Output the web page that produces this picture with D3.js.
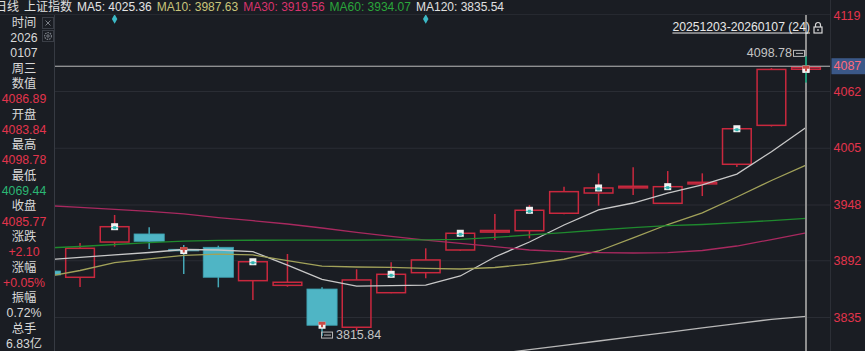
<!DOCTYPE html>
<html><head><meta charset="utf-8">
<script src="https://cdn.jsdelivr.net/npm/d3@7"></script>
<style>
html,body{margin:0;padding:0;background:#1a1d23;overflow:hidden;}
svg{display:block;}
text{font-family:"Liberation Sans","Noto Sans CJK SC",Arial,sans-serif;}
</style></head><body>
<svg id="c" width="865" height="351"></svg>
<script>
// ---------- DATA ----------
const dates = ["20251203","20251204","20251205","20251208","20251209","20251210","20251211","20251212",
  "20251215","20251216","20251217","20251218","20251219","20251222","20251223","20251224","20251225",
  "20251226","20251229","20251230","20251231","20260105","20260106","20260107"];
const open  = [3885.2,3881.2,3874.9,3910.3,3918.4,3903.0,3905.0,3871.5,3866.8,3863.1,3824.7,3859.4,3879.5,3902.3,3920.4,3921.7,3939.2,3959.5,3965.3,3949.2,3969.1,3988.4,4027.5,4083.84];
const close = [3881.5,3877.2,3904.0,3925.7,3911.0,3901.8,3874.9,3890.5,3869.9,3826.7,3872.2,3877.9,3892.3,3919.1,3921.9,3942.2,3960.9,3964.6,3966.3,3965.9,3970.3,4024.1,4083.67,4085.77];
const high  = [3889.0,3886.2,3909.3,3937.5,3925.1,3907.3,3906.6,3891.5,3898.3,3864.8,3882.9,3889.9,3904.0,3920.5,3938.5,3947.5,3965.9,3979.3,3985.4,3981.6,3979.3,4024.5,4085.0,4098.78];
const low   = [3874.6,3870.2,3865.1,3905.6,3903.3,3878.2,3864.8,3852.1,3865.4,3815.84,3820.9,3858.8,3873.9,3901.5,3912.3,3914.0,3938.2,3946.8,3957.5,3949.0,3956.5,3985.7,4026.3,4069.44];
const ma5   = [3891.2,3892.3,3894.8,3897.3,3899.8,3902.8,3902.3,3900.6,3887.2,3872.9,3866.1,3866.6,3867.1,3876.2,3895.3,3910.3,3927.4,3942.5,3949.5,3959.5,3967.6,3978.6,4001.0,4025.36];
const ma10  = [3872.2,3875.2,3881.7,3889.7,3893.3,3896.8,3898.1,3897.3,3891.6,3886.2,3885.2,3884.9,3883.9,3883.2,3884.7,3888.2,3893.0,3901.3,3914.4,3927.9,3939.5,3955.5,3972.1,3987.63];
const ma30  = [3948.0,3947.0,3945.2,3943.2,3941.0,3938.5,3934.9,3931.7,3928.4,3924.4,3920.1,3915.9,3912.3,3909.0,3905.6,3902.3,3900.6,3899.6,3899.3,3899.6,3901.8,3906.3,3912.8,3919.56];
const ma60  = [3903.3,3904.3,3905.8,3907.8,3909.8,3911.3,3912.0,3912.1,3912.3,3912.3,3912.3,3912.4,3912.5,3913.0,3914.9,3917.4,3919.7,3922.4,3924.7,3926.7,3927.9,3929.7,3931.9,3934.07];
const ma120 = [3738.0,3742.6,3746.9,3751.3,3755.8,3760.0,3764.5,3768.7,3773.1,3777.4,3781.0,3785.0,3789.3,3793.5,3797.8,3802.2,3806.6,3810.9,3815.2,3819.6,3824.0,3828.3,3832.7,3835.54];
const yTicks = [4062, 4005, 3948, 3892, 3835];
const topTick = 4119;
const crossValue = 4086.89;
const signalTeal = ["20251208","20251212","20251218","20251222","20251224","20251226","20251230","20260105"];
const signalRed  = ["20251210","20251216","20260107"];
const eventDates = ["20251208","20251219"];
const volumeText = "6.83亿";

// ---------- LAYOUT ----------
const W = 865, H = 351;
const plotLeft = 55, plotRight = 830, plotTop = 14;
const C = {bg:"#1a1d23", grid:"#2a2d34", up:"#c9283e", down:"#4fb5c5", downWick:"#45a8b7",
  red:"#e2344c", green:"#2bb673", txt:"#d8d8d8"};
const maSpec = [
  {name:"MA5", data:ma5, line:"#c8c8c8", leg:"#e4e4e4"},
  {name:"MA10", data:ma10, line:"#a2a25a", leg:"#c9c47a"},
  {name:"MA30", data:ma30, line:"#a8295f", leg:"#d8336c"},
  {name:"MA60", data:ma60, line:"#1f8a2e", leg:"#2aa63b"},
  {name:"MA120", data:ma120, line:"#b8b8b8", leg:"#e0e0e0"}
];

const svg = d3.select("#c");
svg.append("rect").attr("width",W).attr("height",H).attr("fill",C.bg);

const x = d3.scaleBand().domain(dates).range([-6.385, 823.285]).padding(0);
const bw = x.bandwidth();
const cx = d => x(d) + bw/2;
const y = d3.scaleLinear().domain([3835, 4062]).range([317, 91]);
const last = dates.length - 1;

// grid
const gGrid = svg.append("g").attr("transform",`translate(${plotRight},0)`)
  .call(d3.axisLeft(y).tickValues(yTicks).tickSize(plotRight-plotLeft).tickFormat(""));
gGrid.select(".domain").remove();
gGrid.selectAll("line").attr("stroke",C.grid).attr("stroke-width",1.2);

// candles
const bodyW = bw*0.83;
const gC = svg.append("g");
dates.forEach((d,i)=>{
  const o=open[i], c=close[i], up=c>=o;
  const col = up?C.up:C.down;
  const xc = cx(d);
  const yTop = y(Math.max(o,c)), yBot = y(Math.min(o,c));
  const h = Math.max(yBot-yTop, 1.6);
  const wickCol = i===last ? "#1f9a78" : (up?C.up:C.downWick);
  if(up){
    gC.append("line").attr("x1",xc).attr("x2",xc).attr("y1",y(high[i])).attr("y2",yTop)
      .attr("stroke",wickCol).attr("stroke-width",i===last?2:1.5);
    gC.append("line").attr("x1",xc).attr("x2",xc).attr("y1",yTop+h).attr("y2",y(low[i]))
      .attr("stroke",wickCol).attr("stroke-width",i===last?2:1.5);
    gC.append("rect").attr("x",xc-bodyW/2).attr("y",yTop).attr("width",bodyW).attr("height",h)
      .attr("fill","none").attr("stroke",col).attr("stroke-width",1.5);
  } else {
    gC.append("line").attr("x1",xc).attr("x2",xc).attr("y1",y(high[i])).attr("y2",y(low[i]))
      .attr("stroke",wickCol).attr("stroke-width",1.5);
    gC.append("rect").attr("x",xc-bodyW/2-0.75).attr("y",yTop).attr("width",bodyW+1.5).attr("height",h)
      .attr("fill",col).attr("stroke","#3c9fae").attr("stroke-width",0.8);
  }
});

// MA lines
maSpec.forEach(m=>{
  svg.append("path").datum(m.data)
    .attr("d", d3.line().x((v,i)=>cx(dates[i])).y(v=>y(v)))
    .attr("fill","none").attr("stroke",m.line).attr("stroke-width",1.3);
});

// signal markers
function marker(d, kind){
  const i = dates.indexOf(d);
  const xc = cx(d);
  const yy = kind==="teal" ? y(Math.max(open[i],close[i])) : y(Math.min(open[i],close[i]));
  const g = svg.append("g").attr("transform",`translate(${xc},${yy})`);
  g.append("rect").attr("x",-3.5).attr("y",-3.5).attr("width",7).attr("height",7).attr("fill","#f2f2f2");
  if(kind==="teal"){
    g.append("rect").attr("x",-1.5).attr("y",-0.5).attr("width",3).attr("height",3).attr("fill","#2fb3b0");
    g.append("rect").attr("x",-3.5).attr("y",0.5).attr("width",7).attr("height",1).attr("fill","#2fb3b0");
  } else {
    g.append("rect").attr("x",-3.5).attr("y",-3.5).attr("width",7).attr("height",3).attr("fill","#c94a45");
    g.append("rect").attr("x",-1).attr("y",-1).attr("width",2).attr("height",3).attr("fill","#c94a45");
  }
}
signalTeal.forEach(d=>marker(d,"teal"));
signalRed.forEach(d=>marker(d,"red"));

// crosshair
svg.append("line").attr("x1",plotLeft).attr("x2",plotRight).attr("y1",y(crossValue)).attr("y2",y(crossValue))
  .attr("stroke","#bdbdbd").attr("stroke-width",1);
svg.append("line").attr("x1",cx(dates[last])).attr("x2",cx(dates[last])).attr("y1",plotTop).attr("y2",H)
  .attr("stroke","#8e8e8e").attr("stroke-width",2);
// re-draw last candle wick on top of crosshair
svg.append("line").attr("x1",cx(dates[last])).attr("x2",cx(dates[last]))
  .attr("y1",y(high[last])+2).attr("y2",y(low[last])-1).attr("stroke","#1f9a78").attr("stroke-width",2);
marker(dates[last],"red");

// high / low annotations
function icon(g,x0,y0){
  g.append("rect").attr("x",x0+0.5).attr("y",y0-3).attr("width",11).attr("height",6)
    .attr("fill","none").attr("stroke","#b8b8b8").attr("stroke-width",1);
  g.append("line").attr("x1",x0+3).attr("x2",x0+10).attr("y1",y0).attr("y2",y0).attr("stroke","#b8b8b8");
}
const hiIdx = d3.maxIndex(high), loIdx = d3.minIndex(low);
{
  const g = svg.append("g");
  const xc = cx(dates[hiIdx]), yy = y(high[hiIdx]) - 1;
  icon(g, xc-13, yy);
  g.append("text").attr("x",xc-14).attr("y",yy).attr("text-anchor","end").attr("dominant-baseline","central")
    .attr("font-size",12.5).attr("fill","#c4c4c4").text(high[hiIdx].toFixed(2));
}
{
  const g = svg.append("g");
  const xc = cx(dates[loIdx]), yy = y(low[loIdx]) - 1;
  icon(g, xc-1, yy);
  g.append("text").attr("x",xc+14).attr("y",yy).attr("dominant-baseline","central")
    .attr("font-size",12.5).attr("fill","#c4c4c4").text(low[loIdx].toFixed(2));
}

// range label
{
  const rt = `${dates[0]}-${dates[last]} (${dates.length})`;
  const tx = svg.append("text").attr("x",810).attr("y",27).attr("text-anchor","end")
    .attr("dominant-baseline","central").attr("font-size",12.2).attr("fill","#e8e8e8").text(rt);
  const len = tx.node().getComputedTextLength();
  svg.append("line").attr("x1",810-len).attr("x2",810).attr("y1",33).attr("y2",33).attr("stroke","#e8e8e8").attr("stroke-width",1);
  const lk = svg.append("g").attr("transform","translate(813,22)").attr("fill","none").attr("stroke","#d8d8d8").attr("stroke-width",1.2);
  lk.append("path").attr("d","M2.5,5 V3 A2.5,2.5 0 0 1 7.5,3 V5");
  lk.append("rect").attr("x",1).attr("y",5).attr("width",8).attr("height",6);
  lk.append("line").attr("x1",5).attr("x2",5).attr("y1",7).attr("y2",9);
}

// top event diamonds
eventDates.forEach(d=>{
  svg.append("path").attr("d",d3.symbol().type(d3.symbolDiamond).size(26)())
    .attr("transform",`translate(${cx(d)},19)`).attr("fill","#3cb9c6");
});

// right axis
svg.append("rect").attr("x",plotRight).attr("y",0).attr("width",W-plotRight).attr("height",H).attr("fill",C.bg);
svg.append("line").attr("x1",plotRight+0.5).attr("x2",plotRight+0.5).attr("y1",0).attr("y2",H).attr("stroke","#2c2f36");
const gA = svg.append("g").attr("transform",`translate(${plotRight},0)`)
  .call(d3.axisRight(y).tickValues(yTicks).tickSize(0).tickPadding(3.5).tickFormat(d3.format("d")));
gA.select(".domain").remove();
gA.selectAll("text").attr("fill",C.red).attr("font-size",12.5).attr("font-family","Liberation Sans, Arial, sans-serif");
svg.append("text").attr("x",plotRight+3.5).attr("y",plotTop+2).attr("dominant-baseline","central")
  .attr("font-size",12.5).attr("fill",C.red).text(topTick);
{
  const yy = y(crossValue);
  svg.append("rect").attr("x",plotRight+1.5).attr("y",yy-8).attr("width",W-plotRight).attr("height",16).attr("fill","#3b5888");
  svg.append("text").attr("x",plotRight+3.5).attr("y",yy).attr("dominant-baseline","central")
    .attr("font-size",12.5).attr("fill","#ff6b7c").text(Math.round(crossValue));
}

// legend bar
svg.append("rect").attr("x",0).attr("y",0).attr("width",plotRight).attr("height",plotTop).attr("fill",C.bg);
svg.append("line").attr("x1",0).attr("x2",plotRight).attr("y1",plotTop+0.5).attr("y2",plotTop+0.5).attr("stroke","#262930");
{
  const items = [{t:"日线",c:"#e0e0e0"},{t:"上证指数",c:"#e0e0e0"}]
    .concat(maSpec.map(m=>({t:`${m.name}: ${m.data[last].toFixed(2)}`, c:m.leg})));
  let lx = -5;
  items.forEach(it=>{
    const t = svg.append("text").attr("x",lx).attr("y",7).attr("dominant-baseline","central")
      .attr("font-size",12).attr("fill",it.c).text(it.t);
    lx += t.node().getComputedTextLength() + 5;
  });
}

// left info panel
svg.append("rect").attr("x",0).attr("y",plotTop+1).attr("width",plotLeft-1).attr("height",H).attr("fill",C.bg);
svg.append("line").attr("x1",plotLeft-0.5).attr("x2",plotLeft-0.5).attr("y1",plotTop+1).attr("y2",H).attr("stroke","#363a42");
{
  const o=open[last], c=close[last], hi=high[last], lo=low[last], pc=close[last-1];
  const chg=c-pc, pct=chg/pc*100, amp=(hi-lo)/pc*100;
  const dd = dates[last];
  const wk = ["周日","周一","周二","周三","周四","周五","周六"][new Date(+dd.slice(0,4), +dd.slice(4,6)-1, +dd.slice(6)).getDay()];
  const col = v => v>pc?C.red:(v<pc?C.green:C.txt);
  const rows = [
    ["时间",C.txt],[dd.slice(0,4),C.txt],[dd.slice(4),C.txt],[wk,C.txt],
    ["数值",C.txt],[crossValue.toFixed(2),C.red],
    ["开盘",C.txt],[o.toFixed(2),col(o)],
    ["最高",C.txt],[hi.toFixed(2),col(hi)],
    ["最低",C.txt],[lo.toFixed(2),col(lo)],
    ["收盘",C.txt],[c.toFixed(2),col(c)],
    ["涨跌",C.txt],[(chg>=0?"+":"")+chg.toFixed(2),chg>=0?C.red:C.green],
    ["涨幅",C.txt],[(pct>=0?"+":"")+pct.toFixed(2)+"%",pct>=0?C.red:C.green],
    ["振幅",C.txt],[amp.toFixed(2)+"%",C.txt],
    ["总手",C.txt],[volumeText,C.txt],["金额",C.txt]
  ];
  rows.forEach((r,i)=>{
    svg.append("text").attr("x",24).attr("y",22.7+i*15.3).attr("text-anchor","middle")
      .attr("dominant-baseline","central").attr("font-size",12.3).attr("fill",r[1]).text(r[0]);
  });
  // buttons
  const b1 = svg.append("g").attr("transform","translate(42.5,17.5)");
  b1.append("rect").attr("width",11).attr("height",11).attr("fill",C.bg).attr("stroke","#3a3e46");
  b1.append("path").attr("d","M3,3 L8,8 M8,3 L3,8").attr("stroke","#7a7e86").attr("stroke-width",1);
  const b2 = svg.append("g").attr("transform","translate(42.5,30.5)");
  b2.append("rect").attr("width",11).attr("height",11).attr("fill",C.bg).attr("stroke","#3a3e46");
  b2.append("circle").attr("cx",5.5).attr("cy",5.5).attr("r",3.4).attr("fill","none").attr("stroke","#7a7e86").attr("stroke-width",1.2).attr("stroke-dasharray","1.6,0.9");
  b2.append("circle").attr("cx",5.5).attr("cy",5.5).attr("r",1.2).attr("fill","none").attr("stroke","#7a7e86");
}
</script>
</body></html>
